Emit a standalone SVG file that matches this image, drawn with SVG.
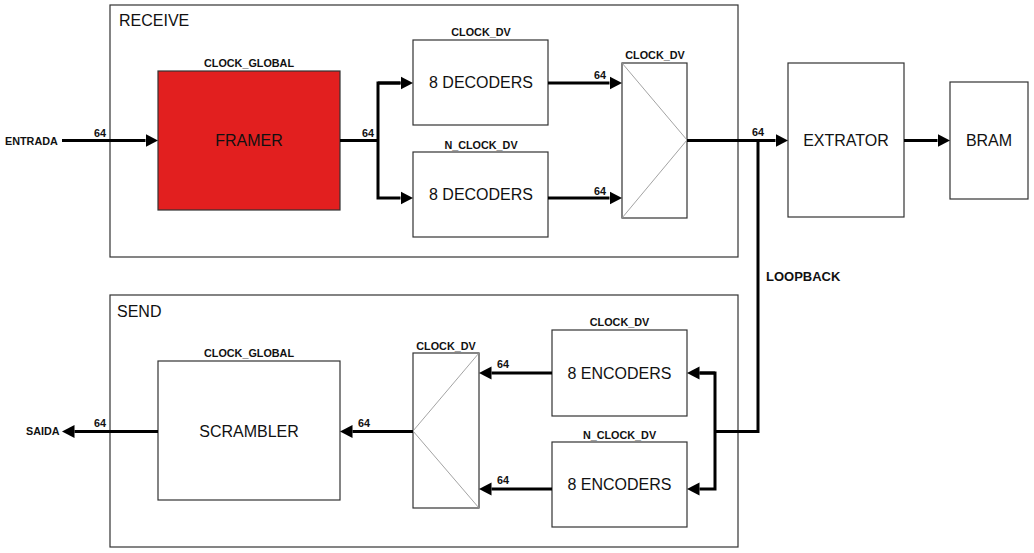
<svg xmlns="http://www.w3.org/2000/svg" width="1034" height="553" viewBox="0 0 1034 553">
<style>
.bg{fill:#ffffff}
.frame{fill:none;stroke:#333;stroke-width:1.2}
.box{fill:#ffffff;stroke:#333;stroke-width:1.2}
.red{fill:#e21f1f;stroke:#333;stroke-width:1.2}
.diag{fill:none;stroke:#999;stroke-width:0.9}
.wire{fill:none;stroke:#000;stroke-width:3}
.big{font-family:"Liberation Sans",Arial,sans-serif;font-size:16px;fill:#111;text-anchor:middle}
.sec{font-family:"Liberation Sans",Arial,sans-serif;font-size:16px;fill:#111}
.lbl{font-family:"Liberation Sans",Arial,sans-serif;font-size:10.8px;font-weight:bold;fill:#111;text-anchor:middle}
.bus{font-family:"Liberation Sans",Arial,sans-serif;font-size:10.8px;font-weight:bold;fill:#111}
.io{font-family:"Liberation Sans",Arial,sans-serif;font-size:10.8px;font-weight:bold;fill:#111}
.lp{font-family:"Liberation Sans",Arial,sans-serif;font-size:13px;font-weight:bold;fill:#111}
</style>
<defs>
<marker id="arr" markerUnits="userSpaceOnUse" markerWidth="13" markerHeight="14" refX="0" refY="6.5" orient="auto" viewBox="0 0 13 13">
<path d="M0,0 L12.5,6.5 L0,13 z" fill="#000"/>
</marker>
</defs>
<rect class="bg" x="0" y="0" width="1034" height="553"/>

<g id="receive">
<rect class="frame" x="110" y="5" width="628" height="252"/>
<text class="sec" x="119" y="26">RECEIVE</text>
</g>
<g id="send">
<rect class="frame" x="110" y="295" width="628" height="252"/>
<text class="sec" x="117" y="316.5">SEND</text>
</g>

<g id="framer">
<rect class="red" x="158" y="71" width="182" height="139"/>
<text class="lbl" x="249" y="67">CLOCK_GLOBAL</text>
<text class="big" x="249" y="146">FRAMER</text>
</g>
<g id="decoders1">
<rect class="box" x="413" y="40" width="135" height="85"/>
<text class="lbl" x="481" y="36">CLOCK_DV</text>
<text class="big" x="481" y="88">8 DECODERS</text>
</g>
<g id="decoders2">
<rect class="box" x="413" y="152" width="135" height="85"/>
<text class="lbl" x="481" y="148.5">N_CLOCK_DV</text>
<text class="big" x="481" y="200">8 DECODERS</text>
</g>
<g id="mux_rx">
<rect class="box" x="622" y="63" width="65" height="155"/>
<polyline class="diag" points="622,63 687,140 622,218"/>
<text class="lbl" x="655" y="59">CLOCK_DV</text>
</g>
<g id="extrator">
<rect class="box" x="788" y="63" width="116" height="154"/>
<text class="big" x="846" y="145.5">EXTRATOR</text>
</g>
<g id="bram">
<rect class="box" x="950" y="82" width="78" height="117"/>
<text class="big" x="989" y="145.5">BRAM</text>
</g>
<g id="encoders1">
<rect class="box" x="552" y="330" width="135" height="86"/>
<text class="lbl" x="619.5" y="326">CLOCK_DV</text>
<text class="big" x="619.5" y="379">8 ENCODERS</text>
</g>
<g id="encoders2">
<rect class="box" x="552" y="442" width="135" height="85"/>
<text class="lbl" x="619.5" y="438.5">N_CLOCK_DV</text>
<text class="big" x="619.5" y="490">8 ENCODERS</text>
</g>
<g id="mux_tx">
<rect class="box" x="413" y="353" width="66" height="155"/>
<polyline class="diag" points="479,353 413,431 479,508"/>
<text class="lbl" x="446" y="349.5">CLOCK_DV</text>
</g>
<g id="scrambler">
<rect class="box" x="158" y="361" width="182" height="139"/>
<text class="lbl" x="249" y="357">CLOCK_GLOBAL</text>
<text class="big" x="249" y="437">SCRAMBLER</text>
</g>

<g id="connectors">
<line class="wire" x1="62" y1="140.5" x2="145.5" y2="140.5" marker-end="url(#arr)"/>
<polyline class="wire" points="340,140.5 378,140.5"/>
<polyline class="wire" points="400.5,83 378,83 378,198 400.5,198" marker-end="url(#arr)"/>
<line class="wire" x1="378" y1="83" x2="400.5" y2="83" marker-end="url(#arr)"/>
<line class="wire" x1="548" y1="83" x2="609.5" y2="83" marker-end="url(#arr)"/>
<line class="wire" x1="548" y1="198" x2="609.5" y2="198" marker-end="url(#arr)"/>
<line class="wire" x1="687" y1="140.5" x2="775.5" y2="140.5" marker-end="url(#arr)"/>
<line class="wire" x1="904" y1="140.5" x2="937.5" y2="140.5" marker-end="url(#arr)"/>
<polyline class="wire" points="758,140.5 758,431.5 715,431.5"/>
<polyline class="wire" points="699.5,373 715,373 715,489 699.5,489" marker-end="url(#arr)"/>
<line class="wire" x1="715" y1="373" x2="699.5" y2="373" marker-end="url(#arr)"/>
<line class="wire" x1="552" y1="373" x2="491.5" y2="373" marker-end="url(#arr)"/>
<line class="wire" x1="552" y1="489" x2="491.5" y2="489" marker-end="url(#arr)"/>
<line class="wire" x1="413" y1="431.5" x2="352.5" y2="431.5" marker-end="url(#arr)"/>
<line class="wire" x1="158" y1="431.5" x2="74.5" y2="431.5" marker-end="url(#arr)"/>

<text class="io" x="5" y="144.5">ENTRADA</text>
<text class="io" x="26" y="435">SAIDA</text>
<text class="lp" x="766" y="280.5">LOOPBACK</text>
<text class="bus" x="94" y="136.5">64</text>
<text class="bus" x="362" y="136.5">64</text>
<text class="bus" x="594" y="78.5">64</text>
<text class="bus" x="594" y="194.5">64</text>
<text class="bus" x="752" y="135.5">64</text>
<text class="bus" x="497" y="368">64</text>
<text class="bus" x="497" y="484">64</text>
<text class="bus" x="358" y="427">64</text>
<text class="bus" x="94" y="427">64</text>
</g>
</svg>
